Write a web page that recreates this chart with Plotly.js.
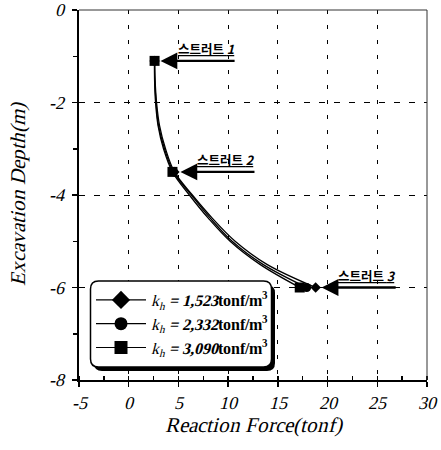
<!DOCTYPE html>
<html>
<head>
<meta charset="utf-8">
<script src="https://cdn.plot.ly/plotly-3.0.1.min.js"></script>
<style>
html,body{margin:0;padding:0;background:#fff}#chart{width:441px;height:450px}
@font-face { font-family: 'TNRX'; src: local('Liberation Serif'), local('LiberationSerif'), local('Liberation Serif Regular'); font-style: normal; font-weight: 400; }
@font-face { font-family: 'TNRX'; src: local('Liberation Serif Bold'), local('LiberationSerif-Bold'); font-style: normal; font-weight: 700; }
</style>
</head>
<body>
<div id="chart"></div>
<script>
// ---- data ----
var depth = [-1.1, -1.5, -2.0, -2.5, -3.0, -3.5, -4.0, -4.5, -5.0, -5.5, -6.0];
var forceK1 = [2.6, 2.65, 2.8, 3.1, 3.7, 4.6, 6.4, 8.4, 10.7, 13.9, 18.8];   // kh = 1,523
var forceK2 = [2.6, 2.62, 2.75, 3.0, 3.6, 4.5, 6.3, 8.2, 10.4, 13.5, 17.9]; // kh = 2,332
var forceK3 = [2.6, 2.6, 2.7, 2.95, 3.5, 4.4, 6.1, 8.0, 10.2, 13.2, 17.2];  // kh = 3,090
var strutIndex = [0, 5, 10];
var strutLabels = ['스트러트 <i>1</i>', '스트러트 <i>2</i>', '스트러트 <i>3</i>'];
var seriesNames = [
  '<i>k<sub>h</sub></i><b><i> = 1,523</i>tonf/m<sup>3</sup></b>',
  '<i>k<sub>h</sub></i><b><i> = 2,332</i>tonf/m<sup>3</sup></b>',
  '<i>k<sub>h</sub></i><b><i> = 3,090</i>tonf/m<sup>3</sup></b>'
];
var xTicks = [-5, 0, 5, 10, 15, 20, 25, 30];
var yTicks = [-8, -6, -4, -2, 0];

var series = [forceK1, forceK2, forceK3];
var symbols = ['diamond', 'circle', 'square'];
var markSizes = [8, 9, 10];
var legSizes = [14, 13, 13];

var SERIF = 'TNRX, "Liberation Serif", serif';

var L = 79, R = 14, T = 10, B = 70, W = 441, H = 450;
var pw = W - L - R, ph = H - T - B;
function px2paperX(p){ return (p - L) / pw; }
function px2paperY(p){ return (H - B - p) / ph; }
function roundRect(x0, y0, x1, y1, r){
  var X = px2paperX, Y = px2paperY;
  return 'M' + X(x0 + r) + ',' + Y(y0) +
    ' L' + X(x1 - r) + ',' + Y(y0) +
    ' Q' + X(x1) + ',' + Y(y0) + ' ' + X(x1) + ',' + Y(y0 + r) +
    ' L' + X(x1) + ',' + Y(y1 - r) +
    ' Q' + X(x1) + ',' + Y(y1) + ' ' + X(x1 - r) + ',' + Y(y1) +
    ' L' + X(x0 + r) + ',' + Y(y1) +
    ' Q' + X(x0) + ',' + Y(y1) + ' ' + X(x0) + ',' + Y(y1 - r) +
    ' L' + X(x0) + ',' + Y(y0 + r) +
    ' Q' + X(x0) + ',' + Y(y0) + ' ' + X(x0 + r) + ',' + Y(y0) + ' Z';
}

var traces = [];
series.forEach(function(s, i){
  traces.push({x: s, y: depth, mode: 'lines', line: {color: '#000', width: 1.3, shape: 'spline', smoothing: 1},
    showlegend: false, hoverinfo: 'skip'});
});
series.forEach(function(s, i){
  traces.push({x: strutIndex.map(function(k){return s[k];}), y: strutIndex.map(function(k){return depth[k];}),
    mode: 'markers', marker: {symbol: symbols[i], size: markSizes[i], color: '#000'}, showlegend: false});
});
series.forEach(function(s, i){
  traces.push({x: [null], y: [null], mode: 'lines+markers', name: seriesNames[i],
    line: {color: '#000', width: 1.2}, marker: {symbol: symbols[i], size: legSizes[i], color: '#000'},
    legendgroup: 'g' + i});
});

var annotations = [];
strutIndex.forEach(function(k, j){
  var tipX = forceK1[k] + 0.6;
  var tailX = tipX + 7.6;
  annotations.push({x: tipX, y: depth[k], ax: tailX, ay: depth[k], axref: 'x', ayref: 'y', xref: 'x', yref: 'y',
    text: '', showarrow: true, arrowhead: 2, arrowsize: 1.4, arrowwidth: 2.4, arrowcolor: '#000', standoff: 0});
  annotations.push({x: (tipX + tailX) / 2 + 0.8, y: depth[k], yshift: 12, xref: 'x', yref: 'y', showarrow: false,
    text: '<b><u>' + strutLabels[j] + '</u></b>',
    font: {family: 'Noto Sans CJK KR', size: 12.5, color: '#000'}});
});

var shapes = [
  {type: 'path', xref: 'paper', yref: 'paper', path: roundRect(94, 285, 275, 371, 8), fillcolor: '#000', line: {width: 0}, layer: 'above'},
  {type: 'path', xref: 'paper', yref: 'paper', path: roundRect(90.5, 281, 271.5, 367, 8), fillcolor: '#fff', line: {color: '#000', width: 1.5}, layer: 'above'},
  {type: 'line', xref: 'paper', yref: 'paper', x0: 0, x1: 1, y0: 1, y1: 1, line: {color: '#333', width: 1}},
  {type: 'line', xref: 'paper', yref: 'paper', x0: 1, x1: 1, y0: 0, y1: 1, line: {color: '#333', width: 1}}
];

var tickFont = {family: SERIF, size: 18, style: 'italic', color: '#000'};
var layout = {
  width: W, height: H,
  font: {family: SERIF, color: '#000'},
  margin: {l: L, r: R, t: T, b: B},
  paper_bgcolor: '#fff', plot_bgcolor: '#fff',
  showlegend: true,
  legend: {x: px2paperX(91), y: px2paperY(283), xanchor: 'left', yanchor: 'top', bgcolor: 'rgba(0,0,0,0)',
    borderwidth: 0, itemwidth: 50, traceorder: 'normal', tracegroupgap: 4,
    font: {family: SERIF, size: 16, color: '#000'}},
  xaxis: {range: [-5, 30], tickvals: xTicks, ticktext: xTicks.map(String), ticks: 'outside', ticklen: 5, tickwidth: 1.5,
    tickcolor: '#000', showline: true, linecolor: '#000', linewidth: 2, zeroline: false,
    showgrid: true, gridcolor: '#000', gridwidth: 1, griddash: '4px,11px',
    minor: {dtick: 2.5, ticks: 'inside', ticklen: 4, tickcolor: '#000', showgrid: false},
    tickfont: tickFont, ticklabelstandoff: 0,
    title: {text: 'Reaction Force(tonf)', font: {family: SERIF, size: 21, style: 'italic', color: '#000'}, standoff: 6}},
  yaxis: {range: [-8, 0], tickvals: yTicks, ticktext: yTicks.map(String), ticks: 'outside', ticklen: 5, tickwidth: 1.5,
    tickcolor: '#000', showline: true, linecolor: '#000', linewidth: 2, zeroline: false,
    showgrid: true, gridcolor: '#000', gridwidth: 1, griddash: '6px,9px',
    minor: {dtick: 1, ticks: 'outside', ticklen: 4, tickcolor: '#000', showgrid: false},
    tickfont: tickFont, ticklabelstandoff: 4,
    title: {text: 'Excavation Depth(m)', font: {family: SERIF, size: 21, style: 'italic', color: '#000'}, standoff: 18}},
  annotations: annotations,
  shapes: shapes
};

function draw(){ Plotly.newPlot('chart', traces, layout, {displayModeBar: false, staticPlot: true}); }
if (document.fonts && document.fonts.load) {
  Promise.all([
    document.fonts.load('italic 18px TNRX'),
    document.fonts.load('italic bold 16px TNRX'),
    document.fonts.load('16px TNRX')
  ]).then(draw, draw);
} else { draw(); }
</script>
</body>
</html>
